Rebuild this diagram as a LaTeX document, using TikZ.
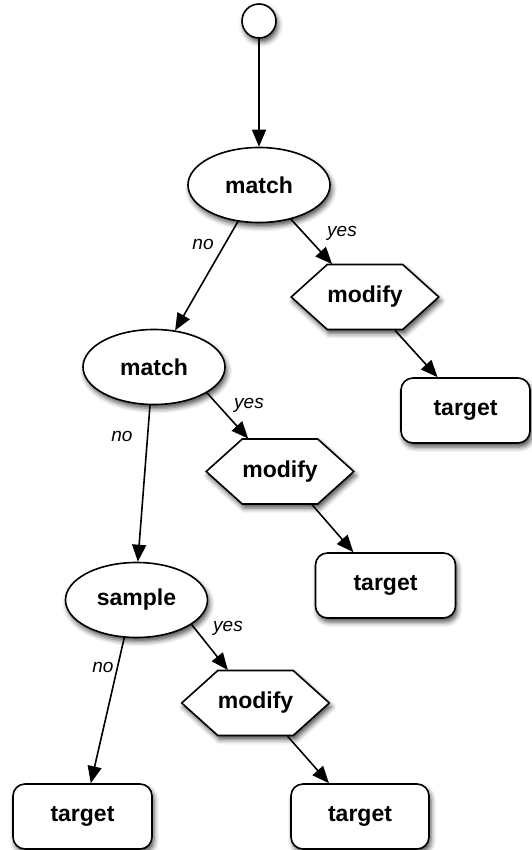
\documentclass[tikz,border=0pt]{standalone}
\usepackage{fontspec}
\setmainfont{Liberation Sans}
\usetikzlibrary{shapes.geometric,shapes.symbols,arrows.meta,shadows.blur}
\begin{document}
\begin{tikzpicture}[x=1pt,y=1pt,
  shad/.style={blur shadow={shadow xshift=2pt,shadow yshift=-4pt,shadow blur radius=5pt,shadow opacity=70}},
  base/.style={draw=black,line width=1.6pt,fill=white,shad,inner sep=0pt,font=\fontsize{23}{26}\selectfont\bfseries},
  cond/.style={base,ellipse,minimum width=142pt,minimum height=75pt},
  modbox/.style={base,signal,signal to=west and east,signal pointer angle=84,minimum width=134pt,minimum height=65pt},
  tgt/.style={base,rectangle,rounded corners=12pt,minimum width=140pt,minimum height=65pt},
  startnode/.style={draw=black,circle,line width=1.6pt,fill=white,shad,minimum size=34pt,inner sep=0pt},
  arr/.style={line width=1.6pt,-{Triangle[length=17pt,width=14pt]}},
  lbl/.style={font=\fontsize{19}{22}\selectfont\itshape,inner sep=0pt}]
\useasboundingbox (0,0) rectangle (531,-850);
\node[startnode] (s) at (259,-21) {};
\node[cond] (m1) at (259,-185) {match};
\node[cond] (m2) at (154,-367) {match};
\node[cond] (sm) at (136.5,-600) {sample};
\node[modbox] (d1) at (365,-297) {modify};
\node[modbox] (d2) at (280,-471.5) {modify};
\node[modbox] (d3) at (255.5,-703) {modify};
\node[tgt,minimum width=129pt] (t1) at (465.5,-410.5) {target};
\node[tgt] (t2) at (385.5,-585.5) {target};
\node[tgt,minimum width=139pt] (t3) at (82.5,-816.5) {target};
\node[tgt,minimum width=138pt] (t4) at (360,-816.5) {target};
\draw[arr] (s.south) -- (m1.north);
\draw[arr] (m1.240) -- (m2.60);
\draw[arr] (m1.313) -- (d1.135);
\draw[arr] (d1.312) -- (t1.130);
\draw[arr] (m2.334) -- (d2.134);
\draw[arr] (d2.314) -- (t2.134);
\draw[arr] (m2.264) -- (sm.88);
\draw[arr] (sm.336) -- (d3.130);
\draw[arr] (sm.252) -- (t3.76);
\draw[arr] (d3.314) -- (t4.133);
\node[lbl] (n1) at (203,-244) {no};
\node[lbl] (y1) at (342,-233) {yes};
\node[lbl] (n2) at (122,-436) {no};
\node[lbl] (y2) at (249,-405) {yes};
\node[lbl] (y3) at (228,-628) {yes};
\node[lbl] (n3) at (103,-667) {no};
\end{tikzpicture}
\end{document}
